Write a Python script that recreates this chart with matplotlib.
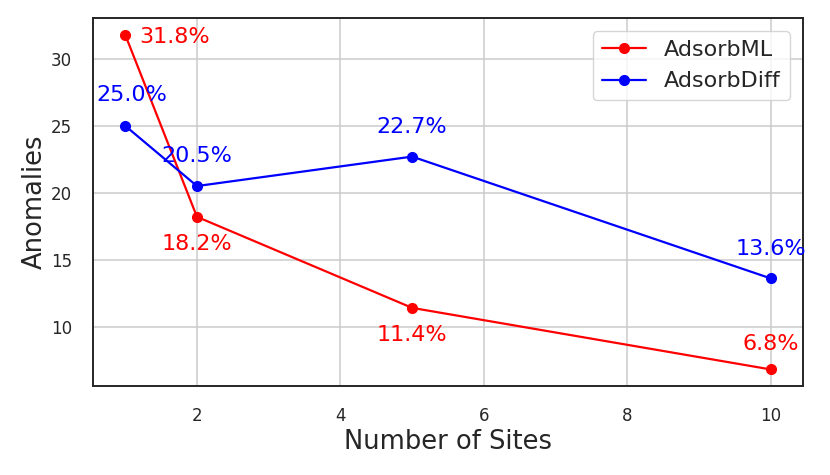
import matplotlib
matplotlib.use('Agg')
import matplotlib.pyplot as plt
import seaborn as sns

sites = [1, 2, 5, 10]
adsorb_ml = [31.8, 18.2, 11.4, 6.8]
adsorb_diff = [25.0, 20.5, 22.7, 13.6]

sns.set_style('whitegrid')
plt.rcParams['font.family'] = ['DejaVu Sans']

fig, ax = plt.subplots(figsize=(8.3, 4.75), dpi=100)
ax.plot(sites, adsorb_ml, 'o-', color='red', label='AdsorbML', markersize=7, linewidth=1.6)
ax.plot(sites, adsorb_diff, 'o-', color='blue', label='AdsorbDiff', markersize=7, linewidth=1.6)

# label offsets in points (dx, dy, ha)
ml_off = [(10, -1.5, 'left'), (0, -19.5, 'center'), (0, -19.5, 'center'), (0, 18, 'center')]
diff_off = [(5, 22, 'center'), (0, 21.5, 'center'), (0, 21, 'center'), (0, 21, 'center')]
for x, y, (dx, dy, ha) in zip(sites, adsorb_ml, ml_off):
    ax.annotate(f'{y:.1f}%', (x, y), xytext=(dx, dy), textcoords='offset points',
                ha=ha, va='center', color='red', fontsize=16)
for x, y, (dx, dy, ha) in zip(sites, adsorb_diff, diff_off):
    ax.annotate(f'{y:.1f}%', (x, y), xytext=(dx, dy), textcoords='offset points',
                ha=ha, va='center', color='blue', fontsize=16)

ax.set_xlabel('Number of Sites', fontsize=18.5, labelpad=3)
ax.set_ylabel('Anomalies', fontsize=18.5, labelpad=2.5)
ax.tick_params(labelsize=12, pad=11.5)
ax.grid(linewidth=1.1)
for s in ax.spines.values():
    s.set_edgecolor('#262626')
    s.set_linewidth(1.4)
ax.legend(fontsize=16, loc='upper right', borderaxespad=0.6)

plt.subplots_adjust(left=0.112, right=0.9675, top=0.962, bottom=0.187)
plt.savefig('out.png', dpi=100)
